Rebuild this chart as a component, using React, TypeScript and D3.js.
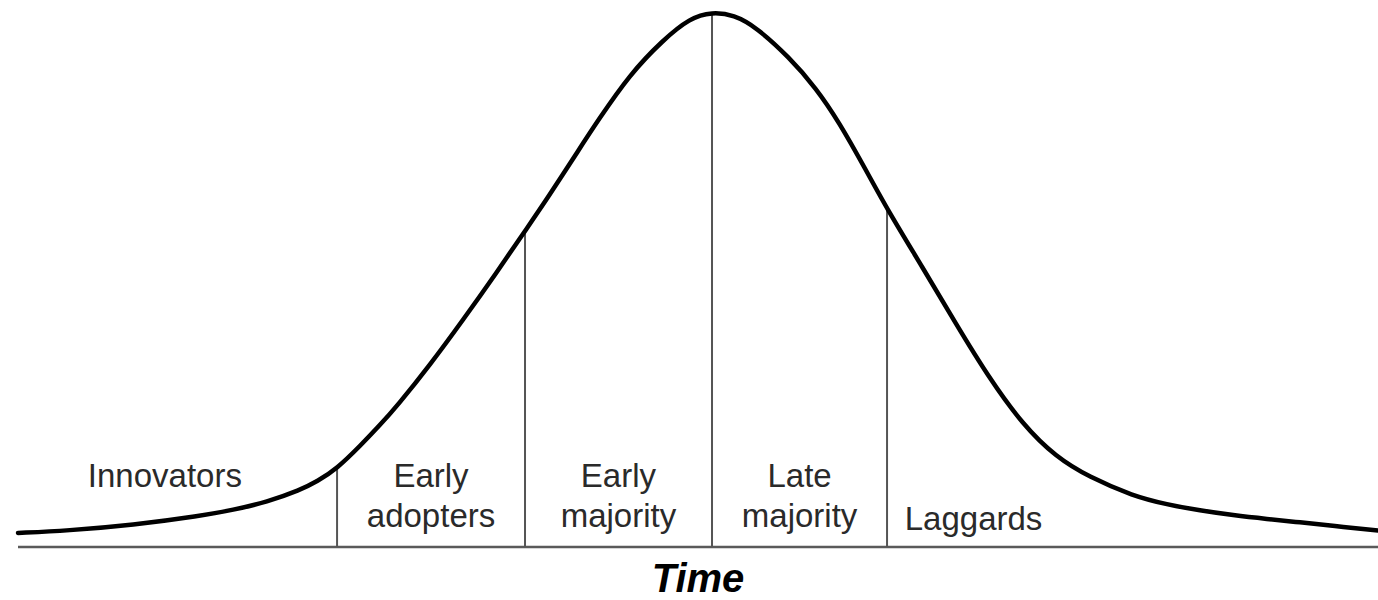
import React, { useLayoutEffect, useRef, useState } from "react";
import * as d3 from "d3";

// Curve: time (0-100) vs. adoption share (peak = 100)
const timeValues = [0, 3.6, 8.46, 13.38, 15.81, 18.31, 20.74, 21.99, 23.46, 25.15, 26.62, 27.87, 30.29, 32.72, 35.22, 37.28, 38.9, 41.32, 42.57, 45.0, 47.43, 49.41, 51.03, 52.65, 54.26, 56.69, 58.68, 60.37, 62.35, 63.9, 66.54, 68.97, 71.4, 73.9, 76.32, 78.75, 81.99, 84.49, 86.91, 89.34, 91.84, 94.26, 96.69, 100];
const adoptionValues = [2.62, 3.05, 4.11, 5.79, 6.92, 8.41, 10.65, 12.24, 14.67, 18.88, 22.8, 26.36, 34.02, 42.43, 51.4, 59.07, 65.05, 74.58, 79.44, 88.41, 94.77, 98.88, 100, 99.44, 97.2, 91.59, 85.79, 79.44, 70.47, 63.18, 52.15, 41.68, 31.59, 22.8, 16.82, 13.08, 9.53, 7.94, 6.82, 5.94, 5.23, 4.62, 3.96, 3.08];

// Segment boundaries on the time axis
const dividerTime = [23.46, 37.28, 51.03, 63.9];
const dividerAdoption = [14.67, 59.07, 100, 63.18];

// Category labels
const categoryLines = [["Innovators"], ["Early", "adopters"], ["Early", "majority"], ["Late", "majority"], ["Laggards"]];
const categoryX = [10.8, 30.37, 44.15, 57.47, 65.2];
const categoryFirstLine = [0, 0, 0, 0, 1];
const categoryAnchor = ["middle", "middle", "middle", "middle", "start"];

const axisTitle = "Time";

export default function App() {
  const W = 1378;
  const H = 600;
  const x = d3.scaleLinear().domain([0, 100]).range([18, 1378]);
  const y = d3.scaleLinear().domain([0, 100]).range([547, 12]);

  const pts: [number, number][] = timeValues.map((t, i) => [x(t), y(adoptionValues[i])]);
  const line = d3.line().curve(d3.curveBasis);
  const path = line(pts) || "";

  const pathRef = useRef<SVGPathElement>(null);
  const [tops, setTops] = useState<number[]>(dividerAdoption.map((v) => y(v)));

  useLayoutEffect(() => {
    const node = pathRef.current;
    if (!node) return;
    const total = node.getTotalLength();
    const samples: { x: number; y: number }[] = [];
    const n = 4000;
    for (let i = 0; i <= n; i++) {
      const p = node.getPointAtLength((total * i) / n);
      samples.push({ x: p.x, y: p.y });
    }
    const res = dividerTime.map((t) => {
      const xt = x(t);
      let best = samples[0];
      for (const s of samples) if (Math.abs(s.x - xt) < Math.abs(best.x - xt)) best = s;
      return best.y;
    });
    setTops(res);
  }, [path]);

  const font = "'Liberation Sans', Arial, Helvetica, sans-serif";
  const lineY = [487, 527];

  return (
    <svg width={W} height={H} style={{ position: "absolute", left: 0, top: 0, background: "#fff" }}>
      <rect x={0} y={0} width={W} height={H} fill="#fff" />
      {/* baseline */}
      <line x1={x(0)} x2={x(100)} y1={y(0)} y2={y(0)} stroke="#5a5a5a" strokeWidth={2.5} />
      {/* dividers */}
      {dividerTime.map((t, i) => (
        <line key={i} x1={x(t)} x2={x(t)} y1={y(0)} y2={tops[i]} stroke="#555" strokeWidth={2} />
      ))}
      {/* curve */}
      <path ref={pathRef} d={path} fill="none" stroke="#000" strokeWidth={4.5} strokeLinejoin="round" strokeLinecap="round" />
      {/* labels */}
      {categoryLines.map((lines, i) => (
        <text key={i} x={x(categoryX[i])} fontFamily={font} fontSize={33} fill="#2a2a2a" textAnchor={categoryAnchor[i] as any}>
          {lines.map((s, j) => (
            <tspan key={j} x={x(categoryX[i])} y={lineY[categoryFirstLine[i] + j] + (i === 4 ? 3 : 0)}>
              {s}
            </tspan>
          ))}
        </text>
      ))}
      {/* axis title */}
      <text
        x={(x(0) + x(100)) / 2}
        y={592}
        fontFamily={font}
        fontSize={40}
        fontWeight="bold"
        fontStyle="italic"
        fill="#000"
        textAnchor="middle"
      >
        {axisTitle}
      </text>
    </svg>
  );
}
